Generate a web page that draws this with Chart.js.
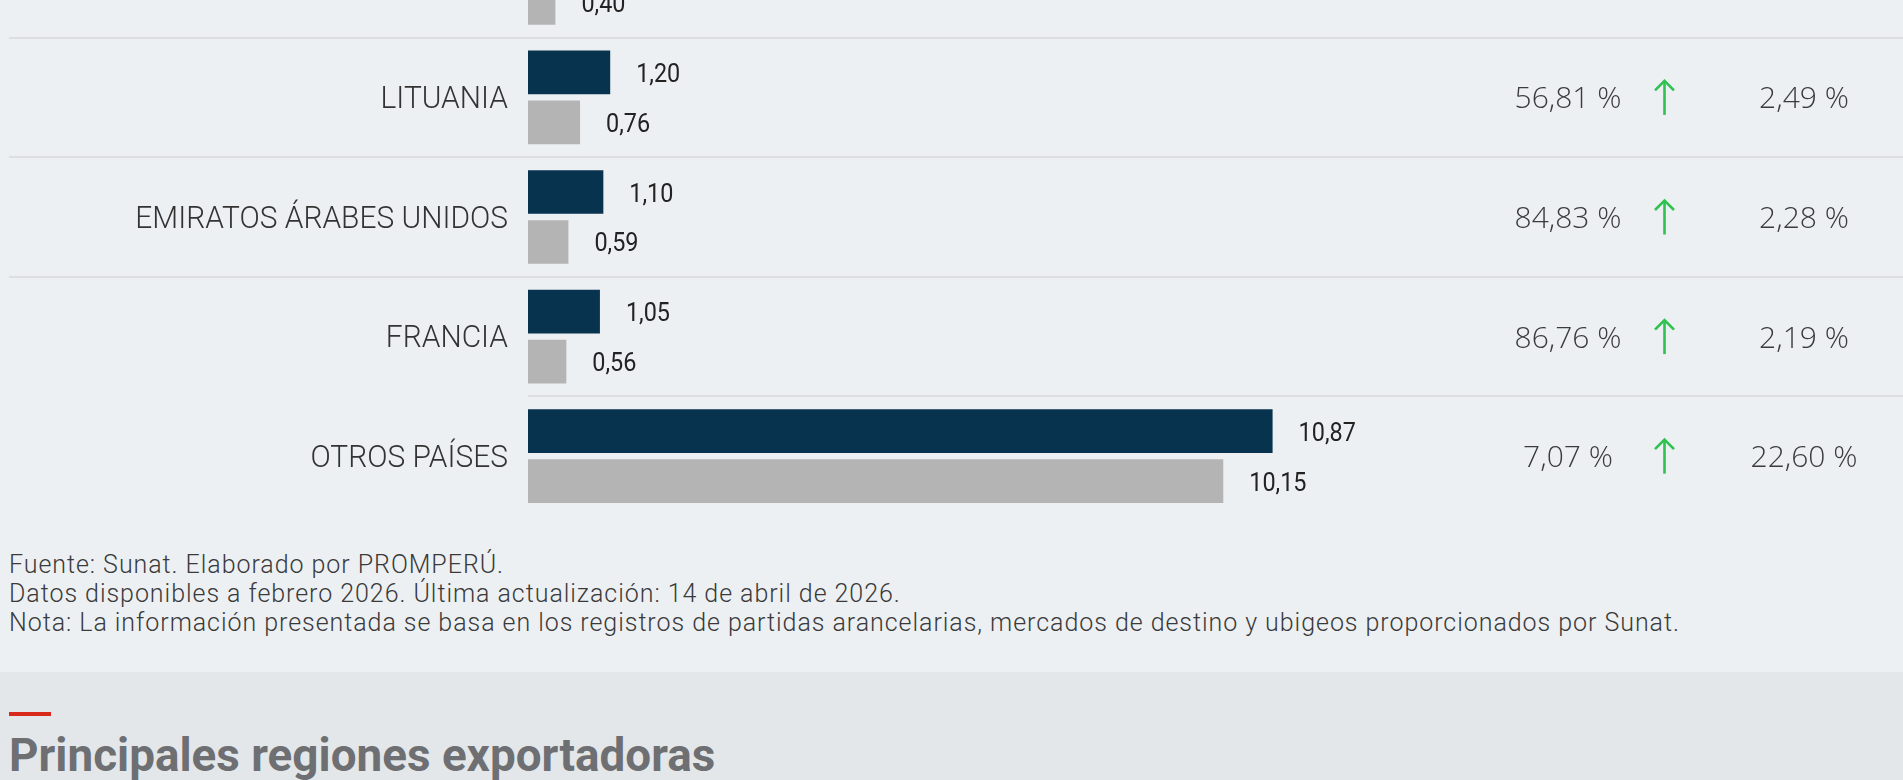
<!DOCTYPE html>
<html lang="es">
<head>
<meta charset="utf-8">
<title>Principales mercados de destino</title>
<script src="https://cdn.jsdelivr.net/npm/chart.js@4/dist/chart.umd.min.js"></script>
<style>
  html, body {
    margin: 0;
    padding: 0;
    width: 1903px;
    height: 780px;
    overflow: hidden;
    background: #edf0f3;
    font-family: Roboto, "Noto Sans", sans-serif;
  }
  /* the list is scrolled: the row above LITUANIA is half out of view */
  #graficoBox {
    position: absolute;
    left: 0;
    top: -82px;
    width: 1903px;
    height: 598px;
  }
  .notas {
    position: absolute;
    left: 9px;
    top: 550px;
    font: 300 25px/29px Roboto, sans-serif;
    letter-spacing: 0.95px;
    color: #3a3a3a;
    white-space: nowrap;
  }
  .siguiente {
    position: absolute;
    left: 0;
    top: 672px;
    width: 1903px;
    height: 108px;
    background: #e4e7e9;
  }
  .siguiente .raya {
    position: absolute;
    left: 9px;
    top: 40px;
    width: 42px;
    height: 4px;
    background: #d9291c;
  }
  .siguiente h2 {
    position: absolute;
    left: 9px;
    top: 59px;
    margin: 0;
    font: 700 47px/47px Roboto, sans-serif;
    color: #6e6f72;
    white-space: nowrap;
    transform: scaleX(0.975);
    transform-origin: left top;
  }
</style>
</head>
<body>

<div id="graficoBox"><canvas id="grafico"></canvas></div>

<div class="notas">
  <div>Fuente: Sunat. Elaborado por PROMPERÚ.</div>
  <div>Datos disponibles a febrero 2026. Última actualización: 14 de abril de 2026.</div>
  <div>Nota: La información presentada se basa en los registros de partidas arancelarias, mercados de destino y ubigeos proporcionados por Sunat.</div>
</div>

<div class="siguiente">
  <div class="raya"></div>
  <h2>Principales regiones exportadoras</h2>
</div>

<script>
// ---------------------------------------------------------------------------
// Datos (millones de US$). La primera fila es la que queda cortada arriba.
// ---------------------------------------------------------------------------
const paises = ["", "LITUANIA", "EMIRATOS ÁRABES UNIDOS", "FRANCIA", "OTROS PAÍSES"];
const valores2026 = [null, 1.20, 1.10, 1.05, 10.87];
const valores2025 = [0.40, 0.76, 0.59, 0.56, 10.15];
const variacion = [null, 56.81, 84.83, 86.76, 7.07];      // var. %
const participacion = [null, 2.49, 2.28, 2.19, 22.60];    // part. %

const AZUL = "#07334f";
const GRIS = "#b4b4b4";
const VERDE = "#2fc251";

// 1.20 -> "1,20"
function fmt(n) {
  return n.toFixed(2).replace(".", ",");
}

// Draw text squeezed horizontally (the site uses a condensed font)
function textoAngosto(ctx, texto, x, y, escala) {
  ctx.save();
  ctx.translate(x, y);
  ctx.scale(escala, 1);
  ctx.fillText(texto, 0, 0);
  ctx.restore();
}

// Small up arrow next to the variation
function flecha(ctx, x, yc) {
  ctx.save();
  ctx.strokeStyle = VERDE;
  ctx.lineWidth = 2.6;
  ctx.lineCap = "butt";
  ctx.beginPath();
  ctx.moveTo(x, yc - 16.5);
  ctx.lineTo(x, yc + 17.5);
  ctx.stroke();
  ctx.beginPath();
  ctx.moveTo(x - 9.5, yc - 7);
  ctx.lineTo(x, yc - 16.5);
  ctx.lineTo(x + 9.5, yc - 7);
  ctx.stroke();
  ctx.restore();
}

// ---------------------------------------------------------------------------
// Plugin: row separators, country names, value labels and the two % columns
// ---------------------------------------------------------------------------
const filasPlugin = {
  id: "filas",
  beforeDatasetsDraw(chart) {
    const { ctx, chartArea, scales: { y } } = chart;
    const alto = y.getPixelForValue(1) - y.getPixelForValue(0);
    ctx.save();
    ctx.strokeStyle = "#dcdee1";
    ctx.lineWidth = 2;
    paises.forEach((p, i) => {
      const top = Math.round(y.getPixelForValue(i) - alto / 2);
      // the last row's line only starts where the bars start
      const x0 = i === paises.length - 1 ? chartArea.left : 9;
      ctx.beginPath();
      ctx.moveTo(x0, top);
      ctx.lineTo(chart.width, top);
      ctx.stroke();
    });
    ctx.restore();
  },
  afterDatasetsDraw(chart) {
    const { ctx, scales: { y } } = chart;
    ctx.save();

    // country names
    ctx.fillStyle = "#333333";
    ctx.font = "300 31px Roboto";
    ctx.textAlign = "right";
    ctx.textBaseline = "alphabetic";
    paises.forEach((p, i) => {
      if (!p) return;
      textoAngosto(ctx, p, 508, y.getPixelForValue(i) + 10.5, 0.965);
    });

    // value at the end of every bar
    ctx.fillStyle = "#222222";
    ctx.font = "400 26px Roboto";
    ctx.textAlign = "left";
    chart.data.datasets.forEach((ds, d) => {
      chart.getDatasetMeta(d).data.forEach((bar, i) => {
        const v = ds.data[i];
        if (v === null) return;
        textoAngosto(ctx, fmt(v), bar.x + 26, bar.y + 9.5, 0.9);
      });
    });

    // variation %, arrow, and share %
    ctx.fillStyle = "#3b3b3b";
    ctx.font = "300 30px 'Open Sans'";
    ctx.textAlign = "center";
    paises.forEach((p, i) => {
      const yc = y.getPixelForValue(i);
      if (variacion[i] !== null) {
        ctx.fillText(fmt(variacion[i]) + " %", 1568, yc + 11);
        flecha(ctx, 1664.5, yc);
      }
      if (participacion[i] !== null) {
        ctx.fillText(fmt(participacion[i]) + " %", 1804, yc + 11);
      }
    });

    ctx.restore();
  }
};

// ---------------------------------------------------------------------------
// Chart
// ---------------------------------------------------------------------------
new Chart(document.getElementById("grafico"), {
  type: "bar",
  data: {
    labels: paises,
    datasets: [
      {
        label: "Feb. 2026",
        data: valores2026,
        backgroundColor: AZUL,
        categoryPercentage: 0.836,
        barPercentage: 0.874
      },
      {
        label: "Feb. 2025",
        data: valores2025,
        backgroundColor: GRIS,
        categoryPercentage: 0.836,
        barPercentage: 0.874
      }
    ]
  },
  options: {
    indexAxis: "y", // horizontal bars
    responsive: true,
    maintainAspectRatio: false,
    animation: false,
    layout: { padding: { left: 528, right: 5, top: 0, bottom: 0 } },
    scales: {
      x: { display: false, min: 0, max: 20 },
      y: { display: false }
    },
    plugins: {
      legend: { display: false },
      tooltip: { enabled: false }
    }
  },
  plugins: [filasPlugin]
});
</script>
</body>
</html>
